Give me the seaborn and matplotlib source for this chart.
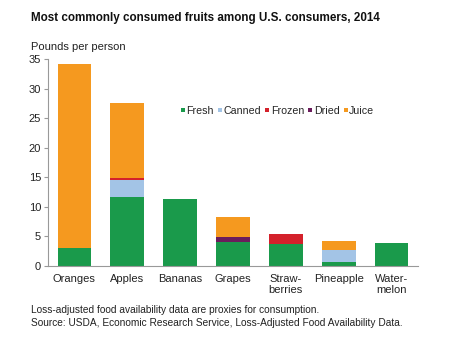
import numpy as np
import pandas as pd
import matplotlib
matplotlib.use("Agg")
import matplotlib.pyplot as plt
import seaborn as sns
from matplotlib.lines import Line2D

categories = ["Oranges", "Apples", "Bananas", "Grapes", "Straw-\nberries", "Pineapple", "Water-\nmelon"]
fresh  = [3.0, 11.6, 11.3, 4.05, 3.8, 0.75, 3.95]
canned = [0.0, 2.9, 0.0, 0.0, 0.0, 1.9, 0.0]
frozen = [0.0, 0.4, 0.0, 0.0, 1.65, 0.0, 0.0]
dried  = [0.0, 0.0, 0.0, 0.9, 0.0, 0.0, 0.0]
juice  = [31.2, 12.7, 0.0, 3.3, 0.0, 1.55, 0.0]
series_names = ["Fresh", "Canned", "Frozen", "Dried", "Juice"]
colors = ["#1a9a4b", "#a3c4e6", "#d4212b", "#6b1c5c", "#f5991f"]

sns.set_style("white")
plt.rcParams["font.family"] = ["Liberation Sans", "DejaVu Sans"]

fig = plt.figure(figsize=(4.5, 3.41), dpi=100)
ax = fig.add_axes([0.1067, 0.22, 0.822, 0.607])

series = [fresh, canned, frozen, dried, juice]
cum = np.cumsum(np.array(series), axis=0)
df = pd.DataFrame({"cat": categories})
# draw from the top layer down so each layer covers the one above
for i in range(len(series) - 1, -1, -1):
    d = df.copy()
    d["val"] = cum[i]
    sns.barplot(data=d, x="cat", y="val", color=colors[i], saturation=1,
                width=0.64, ax=ax, linewidth=0, order=categories)

ax.set_ylim(0, 35)
ax.set_xlim(-0.5, 6.5)
ax.set_yticks(range(0, 36, 5))
ax.set_xlabel("")
ax.set_ylabel("")
for s in ["top", "right"]:
    ax.spines[s].set_visible(False)
for s in ["left", "bottom"]:
    ax.spines[s].set_color("#999999")
    ax.spines[s].set_linewidth(0.8)
ax.tick_params(axis="y", left=True, length=3, width=0.8, color="#999999",
               labelsize=8, pad=2, labelcolor="#222222")
ax.tick_params(axis="x", bottom=False, labelsize=8, pad=2, labelcolor="#222222")

handles = [Line2D([], [], marker="s", linestyle="", markersize=3,
                  markerfacecolor=c, markeredgewidth=0) for c in colors]
fig.legend(handles, series_names, loc="center", bbox_to_anchor=(0.615, 0.674),
           ncol=5, frameon=False, fontsize=7.7, handletextpad=0.0,
           columnspacing=0.2, handlelength=0.7, borderaxespad=0)

fig.text(0.069, 0.947, "Most commonly consumed fruits among U.S. consumers, 2014",
         fontsize=8.4, fontweight="bold", va="center", ha="left", color="#111111")
fig.text(0.069, 0.862, "Pounds per person", fontsize=8, va="center", ha="left",
         color="#222222")
fig.text(0.069, 0.091, "Loss-adjusted food availability data are proxies for consumption.",
         fontsize=7.25, va="center", ha="left", color="#222222")
fig.text(0.069, 0.053, "Source: USDA, Economic Research Service, Loss-Adjusted Food Availability Data.",
         fontsize=7.25, va="center", ha="left", color="#222222")

fig.savefig("out.png", dpi=100)
